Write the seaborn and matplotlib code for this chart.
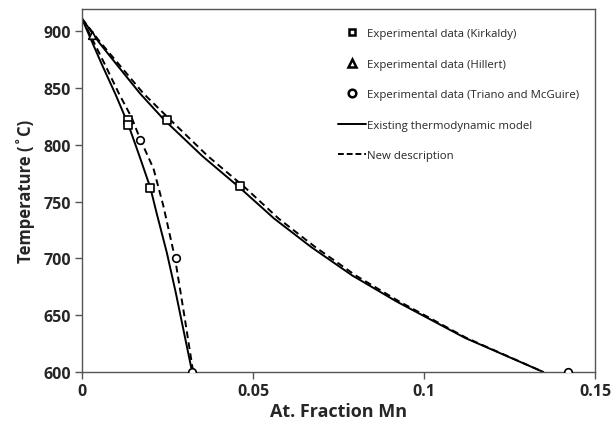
import matplotlib
matplotlib.use("Agg")
import matplotlib.pyplot as plt
from matplotlib.lines import Line2D
import seaborn as sns
import pandas as pd

# Phase boundaries (temperature in °C, at. fraction Mn)
existing_left_T = [911, 890, 870, 845, 818, 790, 762, 740, 705, 670, 635, 600]
existing_left_x = [0.0, 0.0030, 0.0059, 0.0097, 0.0135, 0.0168, 0.0200, 0.0218, 0.0248, 0.0274, 0.0298, 0.0322]

new_left_T = [911, 890, 870, 845, 824, 805, 779, 746, 700, 650, 600]
new_left_x = [0.0, 0.0035, 0.0068, 0.0108, 0.0145, 0.0170, 0.0209, 0.0238, 0.0272, 0.0299, 0.0325]

existing_right_T = [911, 890, 870, 845, 822, 790, 762, 735, 710, 685, 662, 630, 600]
existing_right_x = [0.0, 0.0050, 0.0103, 0.0170, 0.0240, 0.0352, 0.0462, 0.0562, 0.0670, 0.0790, 0.0920, 0.1120, 0.1349]

new_right_T = [911, 890, 870, 845, 822, 790, 762, 735, 710, 685, 662, 630, 600]
new_right_x = [0.0, 0.0054, 0.0110, 0.0180, 0.0258, 0.0368, 0.0478, 0.0575, 0.0682, 0.0800, 0.0928, 0.1124, 0.1349]

# Experimental points
kirkaldy_x = [0.0135, 0.0135, 0.0199, 0.0248, 0.0462]
kirkaldy_T = [822, 817, 762, 822, 764]
hillert_x = [0.0030]
hillert_T = [897]
triano_x = [0.0170, 0.0274, 0.0323, 0.1422]
triano_T = [804, 700, 600, 600]

x_ticks = [0, 0.05, 0.1, 0.15]
x_tick_labels = ["0", "0.05", "0.1", "0.15"]
y_ticks = [600, 650, 700, 750, 800, 850, 900]

sns.set_style("ticks")
plt.rcParams["font.family"] = ["Open Sans", "DejaVu Sans"]

fig = plt.figure(figsize=(6.14, 4.31), dpi=100)
ax = fig.add_axes([0.1336, 0.1346, 0.9690 - 0.1336, 0.9768 - 0.1346])

curves = [
    (existing_left_x, existing_left_T, "-"),
    (existing_right_x, existing_right_T, "-"),
    (new_left_x, new_left_T, "--"),
    (new_right_x, new_right_T, "--"),
]
for xs, ts, style in curves:
    df = pd.DataFrame({"x": xs, "T": ts})
    sns.lineplot(data=df, x="x", y="T", sort=False, estimator=None, ax=ax,
                 color="black", linewidth=1.4, linestyle=style)
    if style == "--":
        ax.lines[-1].set_dashes([3.5, 2.2])

marker_sets = [
    (kirkaldy_x, kirkaldy_T, "s"),
    (hillert_x, hillert_T, "^"),
    (triano_x, triano_T, "o"),
]
for xs, ts, mk in marker_sets:
    df = pd.DataFrame({"x": xs, "T": ts})
    sns.scatterplot(data=df, x="x", y="T", marker=mk, s=30, ax=ax,
                    facecolor="white", edgecolor="black", linewidth=1.2,
                    zorder=5)

ax.set_xlim(0, 0.15)
ax.set_ylim(600, 919.5)
ax.set_xticks(x_ticks)
ax.set_xticklabels(x_tick_labels)
ax.set_yticks(y_ticks)
ax.tick_params(axis="both", direction="out", length=5, width=1,
               color="#555555", labelsize=11.5, pad=3)
for lbl in ax.get_xticklabels() + ax.get_yticklabels():
    lbl.set_fontweight("bold")
for side in ["left", "right", "top", "bottom"]:
    ax.spines[side].set_visible(True)
    ax.spines[side].set_color("#555555")
    ax.spines[side].set_linewidth(1.0)

ax.set_xlabel("At. Fraction Mn", fontsize=13, fontweight="bold", labelpad=2)
ax.set_ylabel("Temperature (˚C)", fontsize=12, fontweight="bold", labelpad=6)

handles = [
    Line2D([], [], linestyle="none", marker="s", markersize=5,
           markerfacecolor="white", markeredgecolor="black", markeredgewidth=1.8),
    Line2D([], [], linestyle="none", marker="^", markersize=5.5,
           markerfacecolor="white", markeredgecolor="black", markeredgewidth=1.8),
    Line2D([], [], linestyle="none", marker="o", markersize=5.5,
           markerfacecolor="white", markeredgecolor="black", markeredgewidth=1.8),
    Line2D([], [], color="black", linestyle="-", linewidth=1.4),
    Line2D([], [], color="black", linestyle=(0, (3, 1.5)), linewidth=1.4),
]
labels = [
    "Experimental data (Kirkaldy)",
    "Experimental data (Hillert)",
    "Experimental data (Triano and McGuire)",
    "Existing thermodynamic model",
    "New description",
]
ax.legend(handles, labels, loc="upper left",
          bbox_to_anchor=(338 / 614, 1 - 29 / 431),
          bbox_transform=fig.transFigure, frameon=False, fontsize=8.2,
          handlelength=2.45, handletextpad=0.1, labelspacing=1.72,
          borderaxespad=0, borderpad=0)

fig.savefig("out.png", dpi=100)
